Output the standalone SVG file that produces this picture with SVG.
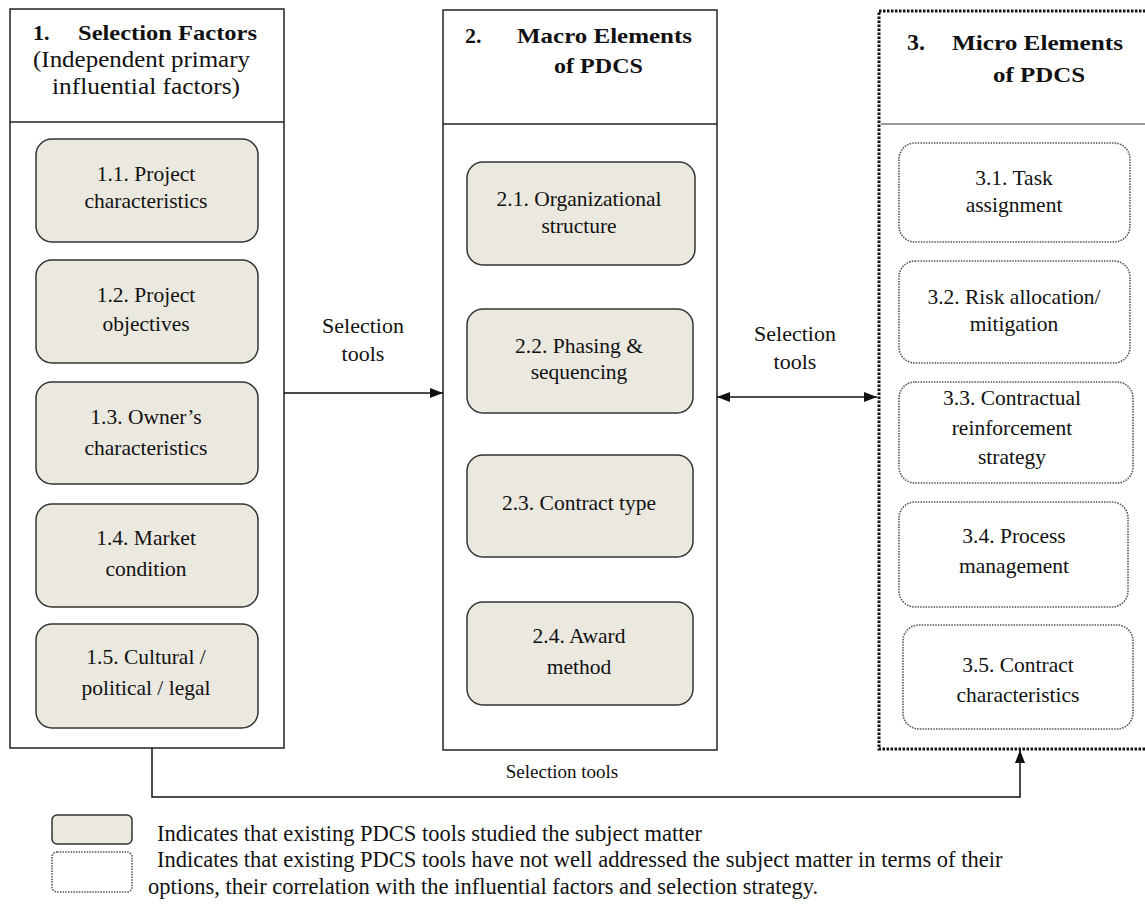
<svg xmlns="http://www.w3.org/2000/svg" width="1145" height="907" viewBox="0 0 1145 907">
  <style>
    text { font-family: "Liberation Serif", "Times New Roman", serif; fill: #111; }
    .t { font-size: 21.5px; text-anchor: middle; }
    .h { font-size: 22px; font-weight: bold; }
    .hn { font-size: 22.5px; }
    .lbl { font-size: 22px; text-anchor: middle; }
    .lbl-b { font-size: 19px; text-anchor: middle; }
    .leg { font-size: 22.5px; }
    .panel { fill: #fff; stroke: #222; stroke-width: 1.5; }
    .panel-dot { fill: #fff; stroke: #111; stroke-width: 3; stroke-dasharray: 2.5 1.5; }
    .div { stroke: #222; stroke-width: 1.5; }
    .div-grey { stroke: #777; stroke-width: 1.5; }
    .studied { fill: #ebe8e0; stroke: #333; stroke-width: 1.5; }
    .open { fill: #fff; stroke: #555; stroke-width: 1.6; stroke-dasharray: 1.5 1.2; }
    .conn { fill: none; stroke: #111; stroke-width: 1.5; }
  </style>
  <defs>
    <marker id="head" viewBox="0 0 13 10" refX="13" refY="5" markerWidth="13" markerHeight="10" markerUnits="userSpaceOnUse" orient="auto-start-reverse">
      <path d="M0,0 L13,5 L0,10 Z" fill="#111"/>
    </marker>
  </defs>

  <!-- Column 1: selection factors -->
  <g id="panel-1">
    <rect class="panel" x="10" y="9" width="274" height="739"/>
    <line class="div" x1="10" y1="122" x2="284" y2="122"/>
    <text class="h" x="33" y="40">1.</text>
    <text class="h" x="78" y="40" textLength="179" lengthAdjust="spacingAndGlyphs">Selection Factors</text>
    <text class="hn" x="33" y="67" textLength="217" lengthAdjust="spacingAndGlyphs">(Independent primary</text>
    <text class="hn" x="52" y="94" textLength="188" lengthAdjust="spacingAndGlyphs">influential factors)</text>
  </g>
  <g id="n1-1">
    <rect class="studied" x="36" y="139" width="222" height="103" rx="16"/>
    <text class="t" x="146" y="181">1.1. Project</text>
    <text class="t" x="146" y="208">characteristics</text>
  </g>
  <g id="n1-2">
    <rect class="studied" x="36" y="260" width="222" height="103" rx="16"/>
    <text class="t" x="146" y="302">1.2. Project</text>
    <text class="t" x="146" y="331">objectives</text>
  </g>
  <g id="n1-3">
    <rect class="studied" x="36" y="382" width="222" height="102" rx="16"/>
    <text class="t" x="146" y="424">1.3. Owner’s</text>
    <text class="t" x="146" y="455">characteristics</text>
  </g>
  <g id="n1-4">
    <rect class="studied" x="36" y="504" width="222" height="103" rx="16"/>
    <text class="t" x="146" y="545">1.4. Market</text>
    <text class="t" x="146" y="576">condition</text>
  </g>
  <g id="n1-5">
    <rect class="studied" x="36" y="624" width="222" height="104" rx="16"/>
    <text class="t" x="146" y="664">1.5. Cultural /</text>
    <text class="t" x="146" y="695">political / legal</text>
  </g>

  <!-- Column 2: macro elements -->
  <g id="panel-2">
    <rect class="panel" x="443" y="10" width="274" height="740"/>
    <line class="div" x1="443" y1="124" x2="717" y2="124"/>
    <text class="h" x="465" y="43">2.</text>
    <text class="h" x="517" y="43" textLength="175" lengthAdjust="spacingAndGlyphs">Macro Elements</text>
    <text class="h" x="554" y="73" textLength="89" lengthAdjust="spacingAndGlyphs">of PDCS</text>
  </g>
  <g id="n2-1">
    <rect class="studied" x="467" y="162" width="228" height="103" rx="16"/>
    <text class="t" x="579" y="206">2.1. Organizational</text>
    <text class="t" x="579" y="233">structure</text>
  </g>
  <g id="n2-2">
    <rect class="studied" x="467" y="309" width="226" height="104" rx="16"/>
    <text class="t" x="579" y="353">2.2. Phasing &amp;</text>
    <text class="t" x="579" y="379">sequencing</text>
  </g>
  <g id="n2-3">
    <rect class="studied" x="467" y="455" width="226" height="102" rx="16"/>
    <text class="t" x="579" y="510">2.3. Contract type</text>
  </g>
  <g id="n2-4">
    <rect class="studied" x="467" y="602" width="226" height="103" rx="16"/>
    <text class="t" x="579" y="643">2.4. Award</text>
    <text class="t" x="579" y="674">method</text>
  </g>

  <!-- Column 3: micro elements -->
  <g id="panel-3">
    <rect class="panel-dot" x="879" y="11" width="280" height="738"/>
    <line class="div-grey" x1="881" y1="124" x2="1145" y2="124"/>
    <text class="h" x="907" y="50" style="font-size:24px">3.</text>
    <text class="h" x="952" y="50" textLength="171" lengthAdjust="spacingAndGlyphs">Micro Elements</text>
    <text class="h" x="993" y="82" textLength="92" lengthAdjust="spacingAndGlyphs">of PDCS</text>
  </g>
  <g id="n3-1">
    <rect class="open" x="899" y="143" width="231" height="99" rx="16"/>
    <text class="t" x="1014" y="185">3.1. Task</text>
    <text class="t" x="1014" y="212">assignment</text>
  </g>
  <g id="n3-2">
    <rect class="open" x="899" y="261" width="231" height="102" rx="16"/>
    <text class="t" x="1014" y="304">3.2. Risk allocation/</text>
    <text class="t" x="1014" y="331">mitigation</text>
  </g>
  <g id="n3-3">
    <rect class="open" x="899" y="382" width="234" height="101" rx="16"/>
    <text class="t" x="1012" y="405">3.3. Contractual</text>
    <text class="t" x="1012" y="435">reinforcement</text>
    <text class="t" x="1012" y="464">strategy</text>
  </g>
  <g id="n3-4">
    <rect class="open" x="899" y="502" width="229" height="105" rx="16"/>
    <text class="t" x="1014" y="543">3.4. Process</text>
    <text class="t" x="1014" y="573">management</text>
  </g>
  <g id="n3-5">
    <rect class="open" x="903" y="625" width="230" height="104" rx="16"/>
    <text class="t" x="1018" y="672">3.5. Contract</text>
    <text class="t" x="1018" y="702">characteristics</text>
  </g>

  <!-- Connectors -->
  <g id="connectors">
    <line class="conn" x1="284" y1="393" x2="443" y2="393" marker-end="url(#head)"/>
    <line class="conn" x1="717" y1="397" x2="877" y2="397" marker-start="url(#head)" marker-end="url(#head)"/>
    <path class="conn" d="M152,748 V797 H1020 V750" marker-end="url(#head)"/>
    <text class="lbl" x="363" y="333">Selection</text>
    <text class="lbl" x="363" y="361">tools</text>
    <text class="lbl" x="795" y="341">Selection</text>
    <text class="lbl" x="795" y="369">tools</text>
    <text class="lbl-b" x="562" y="778">Selection tools</text>
  </g>

  <!-- Legend -->
  <g id="legend">
    <rect class="studied" x="52" y="815" width="80" height="29" rx="5"/>
    <rect class="open" x="52" y="852" width="80" height="40" rx="5"/>
    <text class="leg" x="157" y="841">Indicates that existing PDCS tools studied the subject matter</text>
    <text class="leg" x="157" y="867">Indicates that existing PDCS tools have not well addressed the subject matter in terms of their</text>
    <text class="leg" x="148" y="894">options, their correlation with the influential factors and selection strategy.</text>
  </g>
</svg>
